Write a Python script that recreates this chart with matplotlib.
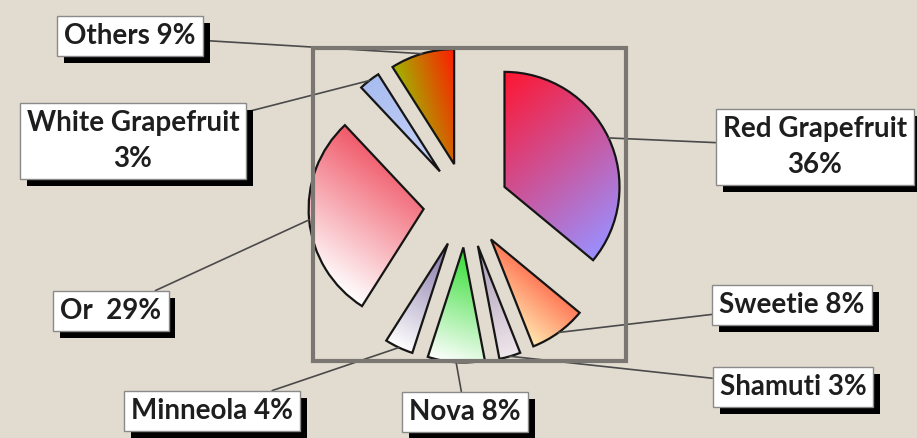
import numpy as np
import matplotlib
matplotlib.use("Agg")
import matplotlib.pyplot as plt
import matplotlib.patheffects as pe
from matplotlib.patches import Rectangle

# ==========================================
# DATA
# ==========================================

varieties = ["Red Grapefruit", "Sweetie", "Shamuti", "Nova",
             "Minneola", "Or", "White Grapefruit", "Others"]
shares = [36, 8, 3, 8, 4, 29, 3, 9]
label_texts = ["Red Grapefruit\n36%", "Sweetie 8%", "Shamuti 3%", "Nova 8%",
               "Minneola 4%", "Or  29%", "White Grapefruit\n3%", "Others 9%"]

# label box centres in pixels (x from left, y from top)
label_pos = [(815, 147), (792, 305), (793, 387), (465, 412),
             (212, 411), (111, 311), (133, 141), (130, 36)]

# gradient colours (start, end, direction in degrees)
grads = [
    ("#ff1530", "#9a90ff", -50),
    ("#ffe8b0", "#ff7a58", 50),
    ("#a898b4", "#f0e8ec", -70),
    ("#ffffff", "#30dc30", 70),
    ("#ffffff", "#8070a4", 60),
    ("#ffffff", "#f05868", 55),
    ("#a8bcf0", "#c8d4f8", -60),
    ("#a0b400", "#ff1a00", 15),
]

W, H = 917, 438
cx, cy, R = 466, 205, 115   # pie centre (px from top) and radius in px

fig = plt.figure(figsize=(W / 100, H / 100), dpi=100)
fig.patch.set_facecolor("#e2dbcf")

ax = fig.add_axes([0, 0, 1, 1])
ax.set_facecolor("#e2dbcf")

wedges, _ = ax.pie(
    shares,
    explode=[0.37] * len(shares),
    startangle=90,
    counterclock=False,
    radius=1,
    center=(0, 0),
    frame=True,
    wedgeprops=dict(edgecolor="#151515", linewidth=1.6, facecolor="none"),
)


def fill_gradient(w, c0, c1, angle):
    d = np.array([np.cos(np.radians(angle)), np.sin(np.radians(angle))])
    v = w.get_path().vertices
    p = v @ d
    x0, x1 = v[:, 0].min(), v[:, 0].max()
    y0, y1 = v[:, 1].min(), v[:, 1].max()
    X, Y = np.meshgrid(np.linspace(x0, x1, 200), np.linspace(y0, y1, 200))
    t = (X * d[0] + Y * d[1] - p.min()) / (p.max() - p.min())
    t = np.clip(t, 0, 1)[..., None]
    a = np.array(matplotlib.colors.to_rgb(c0))
    b = np.array(matplotlib.colors.to_rgb(c1))
    img = (1 - t) * a + t * b
    im = ax.imshow(img, extent=(x0, x1, y0, y1), origin="lower",
                   interpolation="bilinear", zorder=1)
    im.set_clip_path(w)


for w, (c0, c1, ang) in zip(wedges, grads):
    w.set_zorder(2)
    fill_gradient(w, c0, c1, ang)

# axes limits so that 1 data unit = R pixels
ax.set_xlim(-cx / R, (W - cx) / R)
ax.set_ylim(-(H - cy) / R, cy / R)
ax.set_aspect("equal")
ax.axis("off")

# grey frame round the pie
fig.patches.append(Rectangle((313 / W, 1 - 361 / H), 313 / W, 313 / H,
                             transform=fig.transFigure, fill=False,
                             edgecolor="#7a7672", linewidth=3, zorder=0))

# ==========================================
# LABELS
# ==========================================

for w, txt, (lx, ly) in zip(wedges, label_texts, label_pos):
    mid = np.radians((w.theta1 + w.theta2) / 2)
    ax_pt = (w.center[0] + w.r * np.cos(mid), w.center[1] + w.r * np.sin(mid))
    ann = ax.annotate(
        txt,
        xy=ax_pt, xycoords="data",
        xytext=(lx / W, 1 - ly / H), textcoords="figure fraction",
        ha="center", va="center", multialignment="center",
        fontsize=20, fontweight="bold", family="Lato", color="#1e1e1e",
        linespacing=1.45,
        bbox=dict(boxstyle="square,pad=0.25", facecolor="white",
                  edgecolor="#8a8a8a", linewidth=1),
        arrowprops=dict(arrowstyle="-", color="#4a4a4a", linewidth=1.2,
                        shrinkA=0, shrinkB=0),
        zorder=5,
    )
    ann.get_bbox_patch().set_path_effects([
        pe.SimplePatchShadow(offset=(5, -5), shadow_rgbFace="black", alpha=1),
        pe.Normal(),
    ])

fig.savefig("out.png", dpi=100, facecolor=fig.get_facecolor())
